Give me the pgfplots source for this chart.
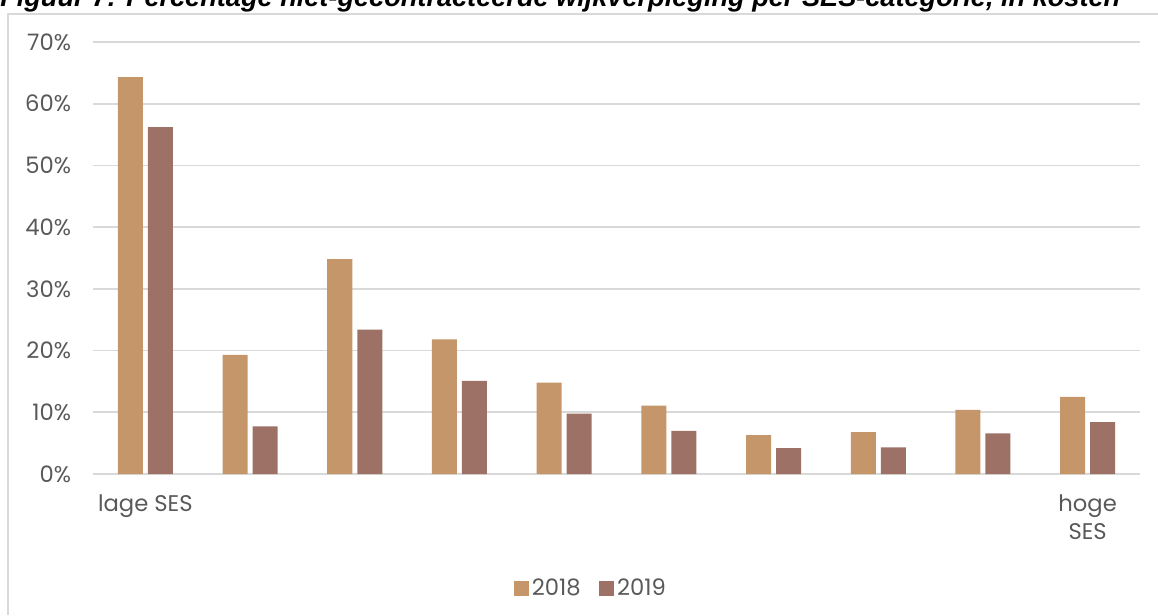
\documentclass[border=0pt]{standalone}
\usepackage{pgfplots}
\pgfplotsset{compat=1.18}
\usepackage{fontspec}
\setmainfont{Poppins}
\newfontfamily\titlefont{Liberation Sans}
\definecolor{c2018}{HTML}{C4966A}
\definecolor{c2019}{HTML}{9E7167}
\definecolor{gridc}{HTML}{D9D9D9}
\definecolor{txt}{HTML}{595959}

\begin{document}
\begin{tikzpicture}
% frame and title (1px = 0.75pt)
\draw[gridc, line width=1.2pt] (6pt,-461.25pt) -- (6pt,-10.5pt) -- (868.5pt,-10.5pt);
\node[anchor=base west, inner sep=0pt] at (0pt,-4.5pt)
  {\resizebox{840pt}{!}{\titlefont\bfseries\itshape Figuur 7: Percentage niet-gecontracteerde wijkverpleging per SES-categorie, in kosten}};

\begin{axis}[
    at={(69.75pt,-355.5pt)}, anchor=south west,
    scale only axis,
    width=785.25pt, height=324pt,
    xmin=-0.5, xmax=9.5,
    ymin=0, ymax=70,
    ybar=3.75pt, bar width=18.75pt,
    ytick={0,10,...,70},
    yticklabel={\pgfmathprintnumber{\tick}\%},
    xtick={0,9},
    xticklabels={lage SES, hoge\\SES},
    xticklabel style={align=center, yshift=-8pt, font=\fontsize{17}{21}\selectfont},
    yticklabel style={xshift=-13pt, font=\fontsize{17}{19}\selectfont},
    /pgf/number format/assume math mode=true,
    ticklabel style={text=txt},
    axis line style={draw=none},
    major tick style={draw=none},
    ymajorgrids,
    grid style={gridc, line width=1.2pt},
    legend style={at={(0.476,-0.264)}, anchor=center, draw=none, fill=none,
        legend columns=2, font=\fontsize{17}{19}\selectfont, text=txt,
        /tikz/every even column/.append style={column sep=12pt}},
    legend image code/.code={\fill[#1] (0pt,-5.6pt) rectangle (11.25pt,5.6pt);},
]
\addplot[fill=c2018, draw=none] coordinates {
(0,64.3) (1,19.3) (2,34.8) (3,21.8) (4,14.8) (5,11.1) (6,6.3) (7,6.8) (8,10.4) (9,12.5)};
\addplot[fill=c2019, draw=none] coordinates {
(0,56.2) (1,7.7) (2,23.4) (3,15.1) (4,9.8) (5,7.0) (6,4.2) (7,4.3) (8,6.6) (9,8.4)};
\legend{2018,2019}
\end{axis}
\pgfresetboundingbox
\useasboundingbox (0pt,0pt) rectangle (868.5pt,-461.25pt);
\end{tikzpicture}
\end{document}
